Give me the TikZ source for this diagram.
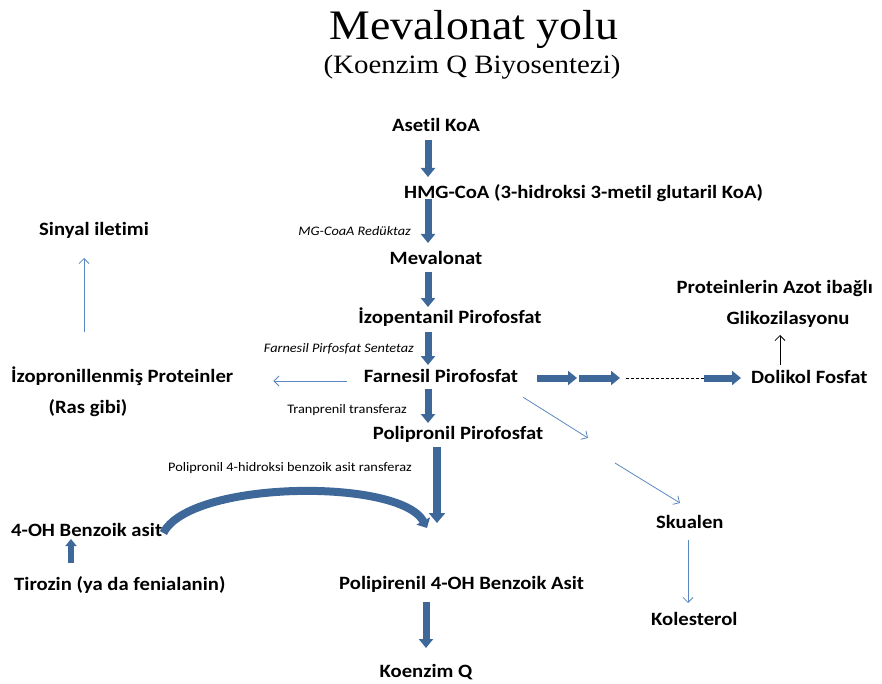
\documentclass[tikz,border=0pt]{standalone}
\usepackage{fontspec}
\setmainfont{Carlito}[FakeStretch=1.1,Ligatures=NoCommon]
\newfontfamily\titlefont{Liberation Serif}[FakeStretch=1.09]
\usetikzlibrary{arrows.meta}
\definecolor{pathblue}{RGB}{62,104,153}
\definecolor{sideblue}{RGB}{90,136,190}

\begin{document}
\begin{tikzpicture}[
    x=1pt,y=-1pt,
    lbl/.style={font=\bfseries\fontsize{18.8}{21}\selectfont,inner sep=1pt},
    enz/.style={font=\fontsize{13}{15}\selectfont,inner sep=1pt},
    bigarr/.style={pathblue,line width=7pt,-{Triangle[length=9pt,width=14pt]}},
    thinarr/.style={sideblue,line width=0.8pt,-{Straight Barb[length=5pt,width=10pt]}},
    >=Latex]
    \useasboundingbox (0,0) rectangle (882,684);
    \node[font=\titlefont\fontsize{42}{46}\selectfont,anchor=base] (title) at (474,40) {Mevalonat yolu};
    \node[font=\titlefont\fontsize{26.5}{30}\selectfont,anchor=base] (subtitle) at (472,74) {(Koenzim Q Biyosentezi)};
    \node[lbl,anchor=base] (asetil) at (436,132) {Asetil KoA};
    \node[lbl,anchor=base west] (hmg) at (403,199) {HMG-CoA (3-hidroksi 3-metil glutaril KoA)};
    \node[enz,anchor=base east,font=\itshape\fontsize{13}{15}\selectfont] (reduktaz) at (412,236) {MG-CoaA Redüktaz};
    \node[lbl,anchor=base] (mevalonat) at (436,265) {Mevalonat};
    \node[lbl,anchor=base] (izopentanil) at (450,323) {İzopentanil Pirofosfat};
    \node[enz,anchor=base east,font=\itshape\fontsize{13}{15}\selectfont] (sentetaz) at (415,352) {Farnesil Pirfosfat Sentetaz};
    \node[lbl,anchor=base] (farnesil) at (441,382) {Farnesil Pirofosfat};
    \node[lbl,anchor=base west] (izopron) at (10,382) {İzopronillenmiş Proteinler};
    \node[lbl,anchor=base] (ras) at (88,413) {(Ras gibi)};
    \node[enz,anchor=base east] (tranprenil) at (408,413) {Tranprenil transferaz};
    \node[lbl,anchor=base] (polipronil) at (458,439) {Polipronil Pirofosfat};
    \node[enz,anchor=base west] (transferaz) at (167,471) {Polipronil 4-hidroksi benzoik asit ransferaz};
    \node[lbl,anchor=base west] (benzoik) at (10,536) {4-OH Benzoik asit};
    \node[lbl,anchor=base west] (tirozin) at (13,590) {Tirozin (ya da fenialanin)};
    \node[lbl,anchor=base west] (polipirenil) at (338,589) {Polipirenil 4-OH Benzoik Asit};
    \node[lbl,anchor=base] (koenzim) at (426,677) {Koenzim Q};
    \node[lbl,anchor=base west] (sinyal) at (38,236) {Sinyal iletimi};
    \node[lbl,anchor=base east] (proteinlerin) at (874,293) {Proteinlerin Azot ibağlı};
    \node[lbl,anchor=base] (glikoz) at (788,324) {Glikozilasyonu};
    \node[lbl,anchor=base west] (dolikol) at (750,383) {Dolikol Fosfat};
    \node[lbl,anchor=base west] (skualen) at (655,528) {Skualen};
    \node[lbl,anchor=base west] (kolesterol) at (650,625) {Kolesterol};
    \coordinate (col) at (428,0);
    \coordinate (col2) at (437,0);
    \coordinate (col3) at (426,0);
    \coordinate (fp) at (0,381);
    \coordinate (sg) at (84,0);
    \coordinate (tb) at (71,0);
    \coordinate (dg) at (780,0);
    \coordinate (kx) at (688,0);
    \coordinate (ch1) at (577,378);
    \coordinate (ch2) at (620,378);
    \coordinate (ch3) at (704,378);
    \coordinate (sq1) at (588,438);
    \coordinate (sq2) at (615,463);
    \coordinate (join) at (427,528);
    \draw[bigarr,shorten <=8pt,shorten >=22pt] (asetil.base -| col) -- (hmg.base -| col);
    \draw[bigarr,shorten >=22pt] (hmg.base -| col) -- (mevalonat.base -| col);
    \draw[bigarr,shorten <=7pt,shorten >=16pt] (mevalonat.base -| col) -- (izopentanil.base -| col);
    \draw[bigarr,shorten <=9pt,shorten >=17pt] (izopentanil.base -| col) -- (farnesil.base -| col);
    \draw[bigarr,shorten <=7pt,shorten >=16pt] (farnesil.base -| col) -- (polipronil.base -| col);
    \draw[bigarr,line width=8pt,-{Triangle[length=10pt,width=16pt]},shorten <=8pt,shorten >=66pt] (polipronil.base -| col2) -- (polipirenil.base -| col2);
    \draw[bigarr,shorten <=13pt,shorten >=29pt] (polipirenil.base -| col3) -- (koenzim.base -| col3);
    \draw[bigarr,line width=6pt,-{Triangle[length=7pt,width=11pt]},shorten <=27pt,shorten >=3pt] (tirozin.base -| tb) -- (benzoik.base -| tb);
    \draw[bigarr,line width=8pt,-{Triangle[length=8pt,width=15pt]}] ([yshift=3pt]benzoik.base east) .. controls (190,480) and (400,478) .. (join);
    \draw[bigarr,shorten <=18pt] (farnesil.east |- ch1) -- (ch1);
    \draw[bigarr] ([xshift=2pt]ch1) -- (ch2);
    \draw[line width=0.8pt,dash pattern=on 3pt off 2pt] ([xshift=6pt]ch2) -- (ch3);
    \draw[bigarr,shorten >=9pt] (ch3) -- (dolikol.west |- ch3);
    \draw[line width=0.8pt,-{Straight Barb[length=5pt,width=10pt]},shorten <=18pt,shorten >=11pt] (dolikol.base -| dg) -- (glikoz.base -| dg);
    \draw[thinarr,shorten <=16pt,shorten >=39pt] (farnesil.west |- fp) -- (izopron.east |- fp);
    \draw[thinarr,shorten <=50pt,shorten >=22pt] (izopron.base -| sg) -- (sinyal.base -| sg);
    \draw[thinarr] ([shift={(4pt,-14pt)}]farnesil.south east) -- (sq1);
    \draw[thinarr] (sq2) -- ([shift={(25pt,25pt)}]skualen.base west);
    \draw[thinarr,shorten <=12pt,shorten >=22pt] (skualen.base -| kx) -- (kolesterol.base -| kx);
\end{tikzpicture}
\end{document}
